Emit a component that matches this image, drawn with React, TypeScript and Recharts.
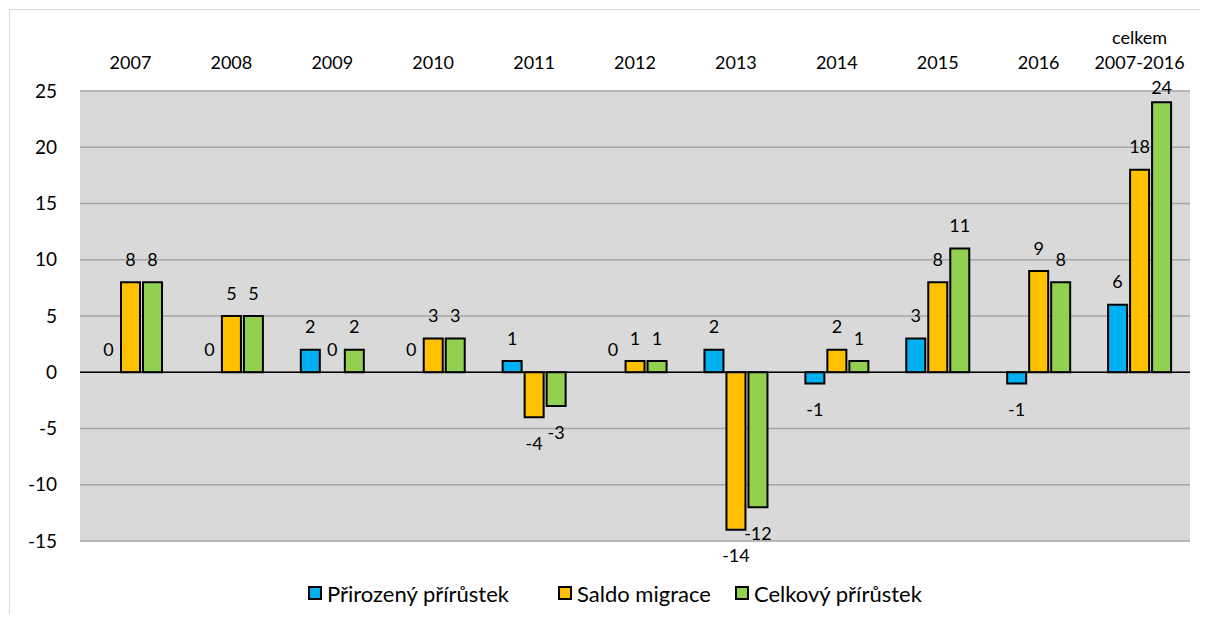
import {
  BarChart,
  Bar,
  XAxis,
  YAxis,
  CartesianGrid,
  ReferenceLine,
  Legend,
} from 'recharts'

// Population change by year (persons)
const categories = [
  '2007',
  '2008',
  '2009',
  '2010',
  '2011',
  '2012',
  '2013',
  '2014',
  '2015',
  '2016',
  'celkem\n2007-2016',
]
const prirozenyPrirustek = [0, 0, 2, 0, 1, 0, 2, -1, 3, -1, 6]
const saldoMigrace = [8, 5, 0, 3, -4, 1, -14, 2, 8, 9, 18]
const celkovyPrirustek = [8, 5, 2, 3, -3, 1, -12, 1, 11, 8, 24]
const yTicks = [-15, -10, -5, 0, 5, 10, 15, 20, 25]

const seriesKeys = ['prirozeny', 'saldo', 'celkovy']
const seriesNames = ['Přirozený přírůstek', 'Saldo migrace', 'Celkový přírůstek']
const seriesColors = ['#00b0f0', '#ffc000', '#92d050']

const data = categories.map((category, i) => ({
  category,
  prirozeny: prirozenyPrirustek[i],
  saldo: saldoMigrace[i],
  celkovy: celkovyPrirustek[i],
}))

const FONT = 'Lato, "Open Sans", sans-serif'
const PLOT_TOP = 81

const CategoryTick = ({ x, y, payload }: any) => {
  const lines = String(payload.value).split('\n')
  return (
    <g>
      {lines.map((line, i) => (
        <text
          key={i}
          x={x}
          y={y - 22 - (lines.length - 1 - i) * 25}
          textAnchor="middle"
          fontSize={18}
          fontFamily={FONT}
          fill="#000"
        >
          {line}
        </text>
      ))}
    </g>
  )
}

// bar rect + its value label (outside end), so zero values get a label too
const BarWithLabel = (props: any) => {
  const { x, y, width, height, value, fill } = props
  const h = Number(height) || 0
  const top = Math.min(y, y + h)
  const bottom = Math.max(y, y + h)
  const cx = x + width / 2
  const baseline = value >= 0 ? Math.max(top - 16.5, PLOT_TOP + 2.5) : bottom + 32.5
  return (
    <g>
      {Math.abs(h) > 0 && (
        <rect x={x} y={top} width={width} height={Math.abs(h)} fill={fill} stroke="#000" strokeWidth={2} />
      )}
      <text x={cx} y={baseline} textAnchor="middle" fontSize={18} fontFamily={FONT} fill="#000">
        {value}
      </text>
    </g>
  )
}

const LegendContent = () => (
  <div
    style={{
      display: 'flex',
      alignItems: 'center',
      height: 30,
      paddingLeft: 298,
      fontFamily: FONT,
      fontSize: 22,
      color: '#000',
    }}
  >
    {seriesNames.map((name, i) => (
      <div
        key={name}
        style={{
          display: 'flex',
          alignItems: 'center',
          flexShrink: 0,
          width: i === 0 ? 250 : i === 1 ? 177 : 'auto',
        }}
      >
        <svg width={14} height={14} style={{ flex: '0 0 14px', marginRight: 5 }}>
          <rect x={1} y={1} width={12} height={12} fill={seriesColors[i]} stroke="#000" strokeWidth={2} />
        </svg>
        <span style={{ whiteSpace: 'nowrap' }}>{name}</span>
      </div>
    ))}
  </div>
)

export default function App() {
  return (
    <div
      style={{
        position: 'relative',
        left: 1,
        top: 1,
        width: 1190,
        height: 605,
        borderLeft: '1px solid #d9d9d9',
        borderTop: '1px solid #d9d9d9',
        fontFamily: FONT,
      }}
    >
      <BarChart
        width={1190}
        height={605}
        data={data}
        margin={{ top: 51, right: 10, bottom: 44, left: 10 }}
        barSize={19}
        barGap={3}
      >
        <CartesianGrid
          vertical={false}
          stroke="#a6a6a6"
          strokeWidth={1.5}
          fill="#d9d9d9"
          fillOpacity={1}
        />
        <XAxis
          dataKey="category"
          orientation="top"
          height={30}
          axisLine={false}
          tickLine={false}
          tickSize={0}
          tickMargin={0}
          interval={0}
          tick={<CategoryTick />}
        />
        <YAxis
          width={60}
          domain={[-15, 25]}
          ticks={yTicks}
          interval={0}
          axisLine={false}
          tickLine={false}
          tickSize={0}
          tickMargin={23}
          tick={{ fontSize: 19, fill: '#000', fontFamily: FONT }}
        />
        <ReferenceLine y={0} stroke="#000" strokeWidth={1.5} />
        {seriesKeys.map((key, i) => (
          <Bar
            key={key}
            dataKey={key}
            name={seriesNames[i]}
            fill={seriesColors[i]}
            stroke="#000"
            strokeWidth={2}
            shape={<BarWithLabel />}
            isAnimationActive={false}
          />
        ))}
        <Legend
          verticalAlign="bottom"
          content={<LegendContent />}
          wrapperStyle={{ left: 0, width: 1190, top: 568, bottom: 'auto', height: 30 }}
        />
      </BarChart>
    </div>
  )
}
